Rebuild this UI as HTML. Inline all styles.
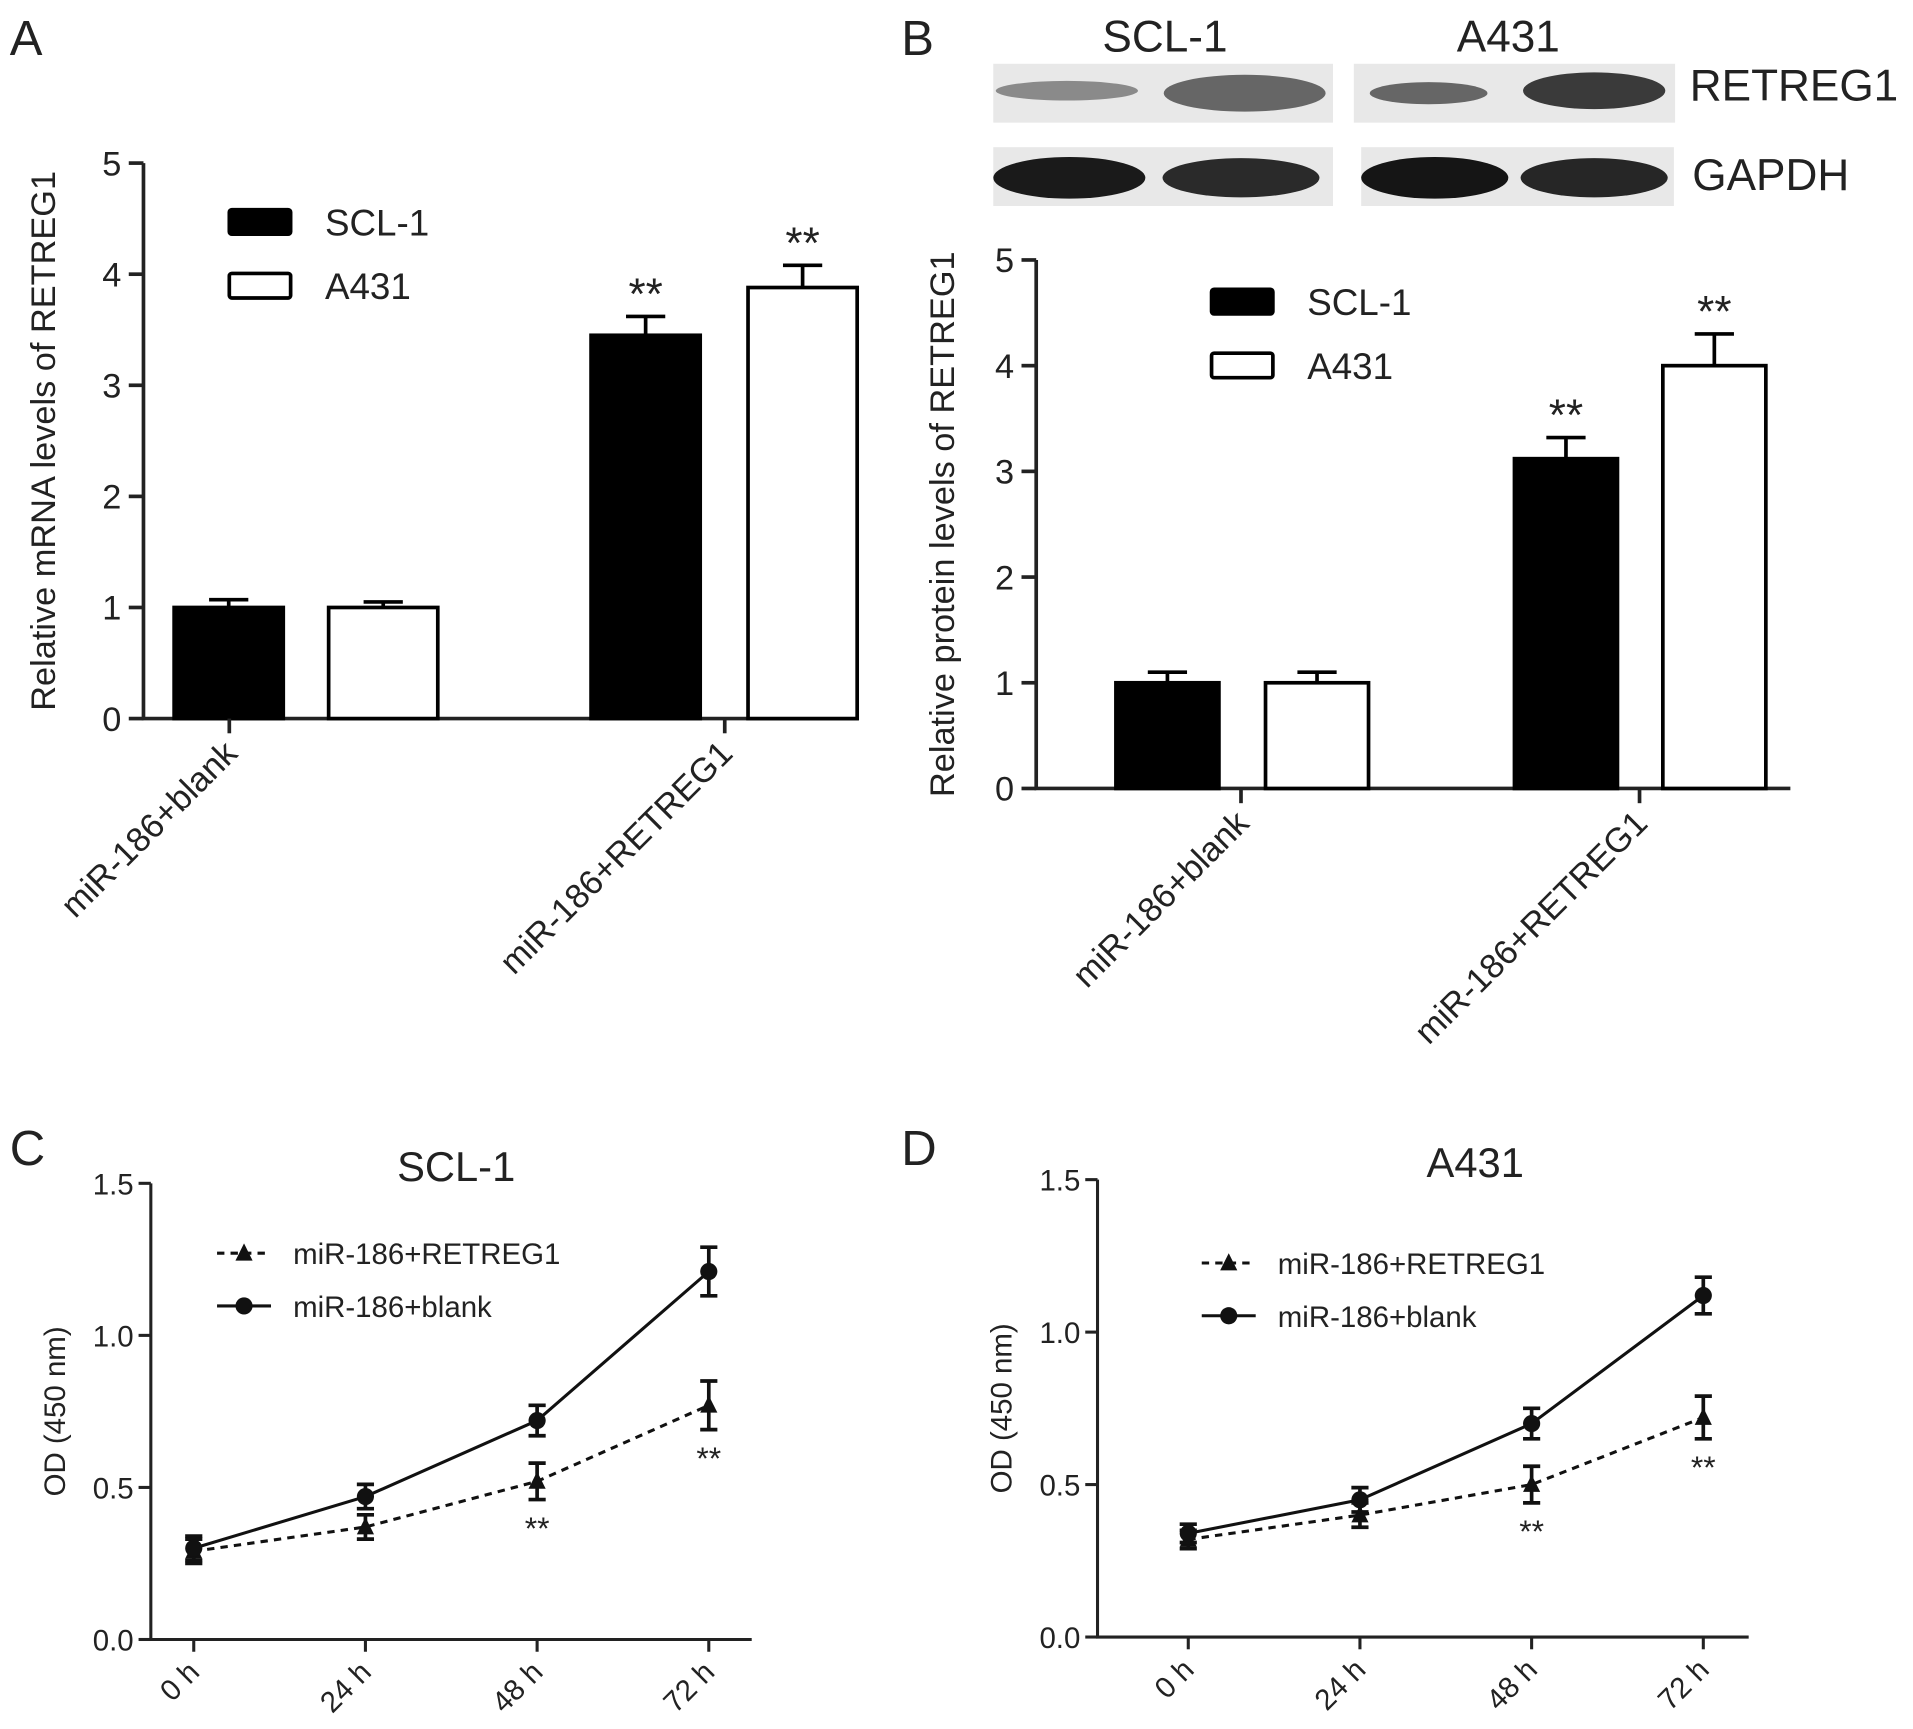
<!DOCTYPE html>
<html><head><meta charset="utf-8"><style>
html,body{margin:0;padding:0;background:#fff}
svg{display:block}
text{font-family:"Liberation Sans",sans-serif;fill:#222}
</style></head><body>
<svg id="fig" width="1913" height="1729" viewBox="0 0 1560 1410" preserveAspectRatio="none" xmlns="http://www.w3.org/2000/svg">
<g id="gA"></g>
<g id="gB"></g>
<g id="gC"></g>
<g id="gD"></g>
</svg>
<script>
const groupsAB = ["miR-186+blank","miR-186+RETREG1"];
const aSCL = [1.0, 3.45], aSCLerr = [0.07, 0.17];
const aA431 = [1.0, 3.88], aA431err = [0.05, 0.2];
const bSCL = [1.0, 3.12], bSCLerr = [0.1, 0.2];
const bA431 = [1.0, 4.0], bA431err = [0.1, 0.3];
const barTicks = [0,1,2,3,4,5];
const timeCats = ["0 h","24 h","48 h","72 h"];
const cBlank = [0.30,0.47,0.72,1.21], cBlankErr=[0.04,0.04,0.05,0.08];
const cRet = [0.29,0.37,0.52,0.77], cRetErr=[0.04,0.04,0.06,0.08];
const dBlank = [0.34,0.45,0.70,1.12], dBlankErr=[0.03,0.04,0.05,0.06];
const dRet = [0.32,0.40,0.50,0.72], dRetErr=[0.03,0.04,0.06,0.07];
const lineTicks = [0.0,0.5,1.0,1.5];
const lineTickLabels = ["0.0","0.5","1.0","1.5"];

const NS="http://www.w3.org/2000/svg";
function mk(parent,tag,attrs,txt){const e=document.createElementNS(NS,tag);for(const k in attrs)e.setAttribute(k,attrs[k]);if(txt!==undefined)e.textContent=txt;parent.appendChild(e);return e;}

function barPanel(g,o){
  const y=v=>o.y0-v*(o.y0-o.y5)/5;
  let ax=mk(g,'path',{d:`M${o.ax} ${o.y5}V${o.y0}H${o.axEnd}`,stroke:'#222','stroke-width':3,fill:'none'});
  
  barTicks.forEach(t=>{
    mk(g,'line',{x1:o.ax-12,x2:o.ax,y1:y(t),y2:y(t),stroke:'#222','stroke-width':3});
    let tx=mk(g,'text',{x:o.ax-18,y:y(t)+10,'text-anchor':'end','font-size':28},String(t));
    
  });
  const yt=mk(g,'text',{transform:`translate(${o.titleX},${(o.y0+o.y5)/2}) rotate(-90)`,'text-anchor':'middle','font-size':28,fill:'#444'},o.title);
  
  groupsAB.forEach((gname,i)=>{
    const series=[[o.s1,o.e1,'#000'],[o.s2,o.e2,'#fff']];
    series.forEach((s,j)=>{
      const x=o.barX[i][j], v=s[0][i], e=s[1][i];
      mk(g,'line',{x1:x+o.bw/2,x2:x+o.bw/2,y1:y(v),y2:y(v+e),stroke:'#000','stroke-width':3});
      mk(g,'line',{x1:x+o.bw/2-16,x2:x+o.bw/2+16,y1:y(v+e),y2:y(v+e),stroke:'#000','stroke-width':3});
      let r=mk(g,'rect',{x:x,y:y(v),width:o.bw,height:y(0)-y(v),fill:s[2],stroke:'#000','stroke-width':3});
      
      if(i==1){mk(g,'text',{x:x+o.bw/2,y:y(v+e)-6,'text-anchor':'middle','font-size':36},'**');}
    });
    const cx=o.tickX[i];
    mk(g,'line',{x1:cx,x2:cx,y1:o.y0,y2:o.y0+12,stroke:'#222','stroke-width':3});
    let lb=mk(g,'text',{transform:`translate(${cx+8},${o.y0+30}) rotate(-45)`,'text-anchor':'end','font-size':28,fill:'#444'},gname);
    
  });
  [['#000','SCL-1'],['#fff','A431']].forEach((l,k)=>{
    const ly=o.legY+k*52;
    let r=mk(g,'rect',{x:o.legX,y:ly-10,width:50,height:20,fill:l[0],stroke:'#000','stroke-width':3,rx:2});
    
    mk(g,'text',{x:o.legX+78,y:ly+11,'font-size':30,fill:'#444'},l[1]);
  });
}
barPanel(document.getElementById('gA'),{ax:117,axEnd:700,y0:586,y5:133,s1:aSCL,e1:aSCLerr,s2:aA431,e2:aA431err,
  barX:[[142,268],[482,610]],bw:89,tickX:[187,591],title:'Relative mRNA levels of RETREG1',titleX:45,legX:187,legY:181});
barPanel(document.getElementById('gB'),{ax:845,axEnd:1460,y0:643,y5:212,s1:bSCL,e1:bSCLerr,s2:bA431,e2:bA431err,
  barX:[[910,1032],[1235,1356]],bw:84,tickX:[1012,1337],title:'Relative protein levels of RETREG1',titleX:778,legX:988,legY:246});

[['A',8,45],['B',735,45],['C',8,950],['D',735,950]].forEach(p=>{
  let t=mk(document.getElementById('fig'),'text',{x:p[1],y:p[2],'font-size':40},p[0]);
  
});

(function(){
  const g=document.getElementById('gB');
  mk(g,'text',{x:950,y:42,'text-anchor':'middle','font-size':36},'SCL-1');
  mk(g,'text',{x:1230,y:42,'text-anchor':'middle','font-size':36},'A431');
  mk(g,'text',{x:1378,y:82,'font-size':36},'RETREG1');
  mk(g,'text',{x:1380,y:155,'font-size':36},'GAPDH');
  const boxes=[[810,52,277,48],[1104,52,262,48],[810,120,277,48],[1110,120,255,48]];
  boxes.forEach((b,i)=>{let r=mk(g,'rect',{x:b[0],y:b[1],width:b[2],height:b[3],fill:'#e8e8e8'});
    });
  const bands=[[870,74,58,8,'#8a8a8a'],[1015,76,66,15,'#666'],[1165,76,48,9,'#666'],[1300,74,58,15,'#3a3a3a'],
    [872,145,62,17,'#1a1a1a'],[1012,145,64,16,'#2a2a2a'],[1170,145,60,17,'#151515'],[1300,145,60,16,'#262626']];
  bands.forEach(b=>mk(g,'ellipse',{cx:b[0],cy:b[1],rx:b[2],ry:b[3],fill:b[4]}));
})();

function linePanel(g,o){
  const y=v=>o.y0-v*(o.y0-o.y15)/1.5;
  const x=i=>o.xs+i*o.dx;
  mk(g,'path',{d:`M${o.ax} ${o.y15}V${o.y0}H${o.axEnd}`,stroke:'#222','stroke-width':2.5,fill:'none'});
  lineTicks.forEach((t,k)=>{
    mk(g,'line',{x1:o.ax-10,x2:o.ax,y1:y(t),y2:y(t),stroke:'#222','stroke-width':2.5});
    let tx=mk(g,'text',{x:o.ax-14,y:y(t)+9,'text-anchor':'end','font-size':24,fill:'#444'},lineTickLabels[k]);
    
  });
  timeCats.forEach((c,i)=>{
    mk(g,'line',{x1:x(i),x2:x(i),y1:o.y0,y2:o.y0+10,stroke:'#222','stroke-width':2.5});
    let lb=mk(g,'text',{transform:`translate(${x(i)+6},${o.y0+28}) rotate(-45)`,'text-anchor':'end','font-size':24,fill:'#444'},c);
    
  });
  mk(g,'text',{transform:`translate(${o.ax-70},${(o.y0+o.y15)/2}) rotate(-90)`,'text-anchor':'middle','font-size':24,fill:'#444'},'OD (450 nm)');
  mk(g,'text',{x:o.titleX,y:o.y15-2,'text-anchor':'middle','font-size':34},o.title);
  [[o.ret,o.retE,'6 5','tri'],[o.blank,o.blankE,'','dot']].forEach(s=>{
    const pts=s[0].map((v,i)=>x(i)+','+y(v)).join(' ');
    let pl=mk(g,'polyline',{points:pts,fill:'none',stroke:'#111','stroke-width':2.5,'stroke-dasharray':s[2]});
    
    s[0].forEach((v,i)=>{
      const e=s[1][i],cx=x(i);
      mk(g,'path',{d:`M${cx-7} ${y(v+e)}H${cx+7}M${cx} ${y(v+e)}V${y(v-e)}M${cx-7} ${y(v-e)}H${cx+7}`,stroke:'#111','stroke-width':3,fill:'none'});
      let m;
      if(s[3]=='dot')m=mk(g,'circle',{cx:cx,cy:y(v),r:7,fill:'#111'});
      else m=mk(g,'path',{d:`M${cx} ${y(v)-8}L${cx+7} ${y(v)+6}L${cx-7} ${y(v)+6}Z`,fill:'#111'});
      
    });
  });
  [2,3].forEach(i=>mk(g,'text',{x:x(i),y:y(o.ret[i]-o.retE[i])+32,'text-anchor':'middle','font-size':26},'**'));
  const lx=o.legX,ly=o.legY;
  mk(g,'line',{x1:lx,x2:lx+44,y1:ly,y2:ly,stroke:'#111','stroke-width':2.5,'stroke-dasharray':'6 5'});
  mk(g,'path',{d:`M${lx+22} ${ly-8}L${lx+29} ${ly+6}L${lx+15} ${ly+6}Z`,fill:'#111'});
  mk(g,'text',{x:lx+62,y:ly+9,'font-size':24,fill:'#444'},'miR-186+RETREG1');
  mk(g,'line',{x1:lx,x2:lx+44,y1:ly+43,y2:ly+43,stroke:'#111','stroke-width':2.5});
  mk(g,'circle',{cx:lx+22,cy:ly+43,r:7,fill:'#111'});
  mk(g,'text',{x:lx+62,y:ly+52,'font-size':24,fill:'#444'},'miR-186+blank');
}
linePanel(document.getElementById('gC'),{ax:123,axEnd:613,y0:1337,y15:965,xs:158,dx:140,blank:cBlank,blankE:cBlankErr,ret:cRet,retE:cRetErr,title:'SCL-1',titleX:372,legX:177,legY:1022});
linePanel(document.getElementById('gD'),{ax:895,axEnd:1426,y0:1335,y15:962,xs:969,dx:140,blank:dBlank,blankE:dBlankErr,ret:dRet,retE:dRetErr,title:'A431',titleX:1203,legX:980,legY:1030});
</script>
</body></html>
